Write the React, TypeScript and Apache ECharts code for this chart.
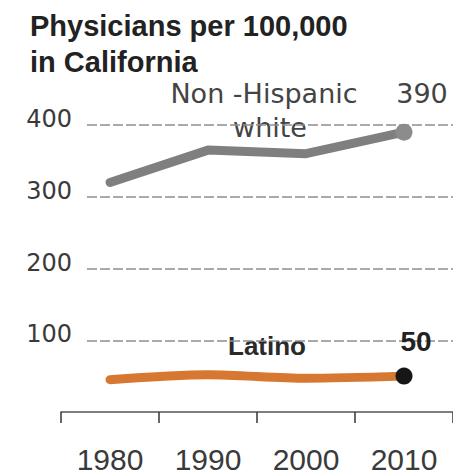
import React, { useEffect, useRef } from "react";
import * as echarts from "echarts";

const years = ["1980", "1990", "2000", "2010"];
const whiteValues = [320, 365, 360, 390];
const latinoValues = [45, 52, 47, 50];
const yTicks = [100, 200, 300, 400];

export default function App() {
  const ref = useRef<HTMLDivElement>(null);
  useEffect(() => {
    document.body.style.margin = "0";
    const chart = echarts.init(ref.current!, null, { renderer: "svg" });
    const lastIdx = years.length - 1;
    const option: any = {
      animation: false,
      backgroundColor: "#ffffff",
      grid: [
        { left: 61, right: -5, top: 125, bottom: 62 },
        { left: 87, right: 0, top: 125, bottom: 133.75 },
      ],
      xAxis: [
        {
          type: "category",
          gridIndex: 0,
          data: years,
          boundaryGap: true,
          offset: 5,
          axisLine: { show: true, lineStyle: { color: "#555", width: 1.5 } },
          axisTick: { show: true, length: 11, lineStyle: { color: "#333", width: 1.5 } },
          axisLabel: {
            margin: 30,
            fontFamily: "Liberation Sans",
            fontSize: 30,
            lineHeight: 24,
            color: "#3a3a3a",
          },
          splitLine: { show: false },
        },
        { type: "value", gridIndex: 1, min: 0, max: 1, show: false },
      ],
      yAxis: [
        {
          type: "value",
          gridIndex: 0,
          min: 0,
          max: 400,
          show: false,
          splitLine: { show: false },
        },
        {
          type: "value",
          gridIndex: 1,
          min: yTicks[0],
          max: yTicks[yTicks.length - 1],
          interval: 100,
          axisLine: { show: false },
          axisTick: { show: false },
          axisLabel: {
            margin: 15,
            fontFamily: "DejaVu Sans",
            fontSize: 24,
            lineHeight: 12,
            color: "#3a3a3a",
            verticalAlign: "bottom",
          },
          splitLine: {
            show: true,
            lineStyle: { color: "#8f8f8f", width: 1.5, type: [10, 3] },
          },
        },
      ],
      graphic: [
        {
          type: "text",
          left: 30,
          top: 8,
          style: {
            text: "Physicians per 100,000\nin California",
            fontFamily: "Liberation Sans",
            fontWeight: "bold",
            fontSize: 29,
            lineHeight: 36,
            fill: "#222",
          },
        },
        {
          type: "text",
          x: 264,
          y: 93.7,
          style: {
            text: "Non -Hispanic",
            fontFamily: "DejaVu Sans",
            fontSize: 27,
            fill: "#444",
            align: "center",
            verticalAlign: "middle",
          },
        },
        {
          type: "text",
          x: 270,
          y: 127.7,
          style: {
            text: "white",
            fontFamily: "DejaVu Sans",
            fontSize: 27,
            fill: "#444",
            align: "center",
            verticalAlign: "middle",
          },
        },
        {
          type: "text",
          x: 267,
          y: 346,
          style: {
            text: "Latino",
            fontFamily: "Liberation Sans",
            fontWeight: "bold",
            fontSize: 26,
            fill: "#2a2a2a",
            align: "center",
            verticalAlign: "middle",
          },
        },
      ],
      series: [
        {
          type: "line",
          xAxisIndex: 0,
          yAxisIndex: 0,
          data: whiteValues.map((v, i) =>
            i === lastIdx
              ? {
                  value: v,
                  symbol: "circle",
                  symbolSize: 17,
                  itemStyle: { color: "#8c8c8c" },
                  label: {
                    show: true,
                    position: "top",
                    distance: 17,
                    offset: [18, 0],
                    formatter: "{c}",
                    fontFamily: "DejaVu Sans",
                    fontSize: 27,
                    color: "#444",
                  },
                }
              : { value: v, symbol: "none" }
          ),
          lineStyle: { color: "#7f7f7f", width: 9, cap: "round", join: "round" },
          itemStyle: { color: "#8c8c8c" },
          z: 3,
        },
        {
          type: "line",
          xAxisIndex: 0,
          yAxisIndex: 0,
          smooth: 0.3,
          data: latinoValues.map((v, i) =>
            i === lastIdx
              ? {
                  value: v,
                  symbol: "circle",
                  symbolSize: 17,
                  itemStyle: { color: "#161616" },
                  label: {
                    show: true,
                    position: "top",
                    distance: 12,
                    offset: [12, 0],
                    formatter: "{c}",
                    fontFamily: "Liberation Sans",
                    fontWeight: "bold",
                    fontSize: 28,
                    color: "#222",
                  },
                }
              : { value: v, symbol: "none" }
          ),
          lineStyle: { color: "#d67832", width: 9, cap: "round", join: "round" },
          itemStyle: { color: "#161616" },
          z: 3,
        },
      ],
    };
    chart.setOption(option);
    return () => chart.dispose();
  }, []);
  return <div ref={ref} style={{ width: 453, height: 474 }} />;
}
